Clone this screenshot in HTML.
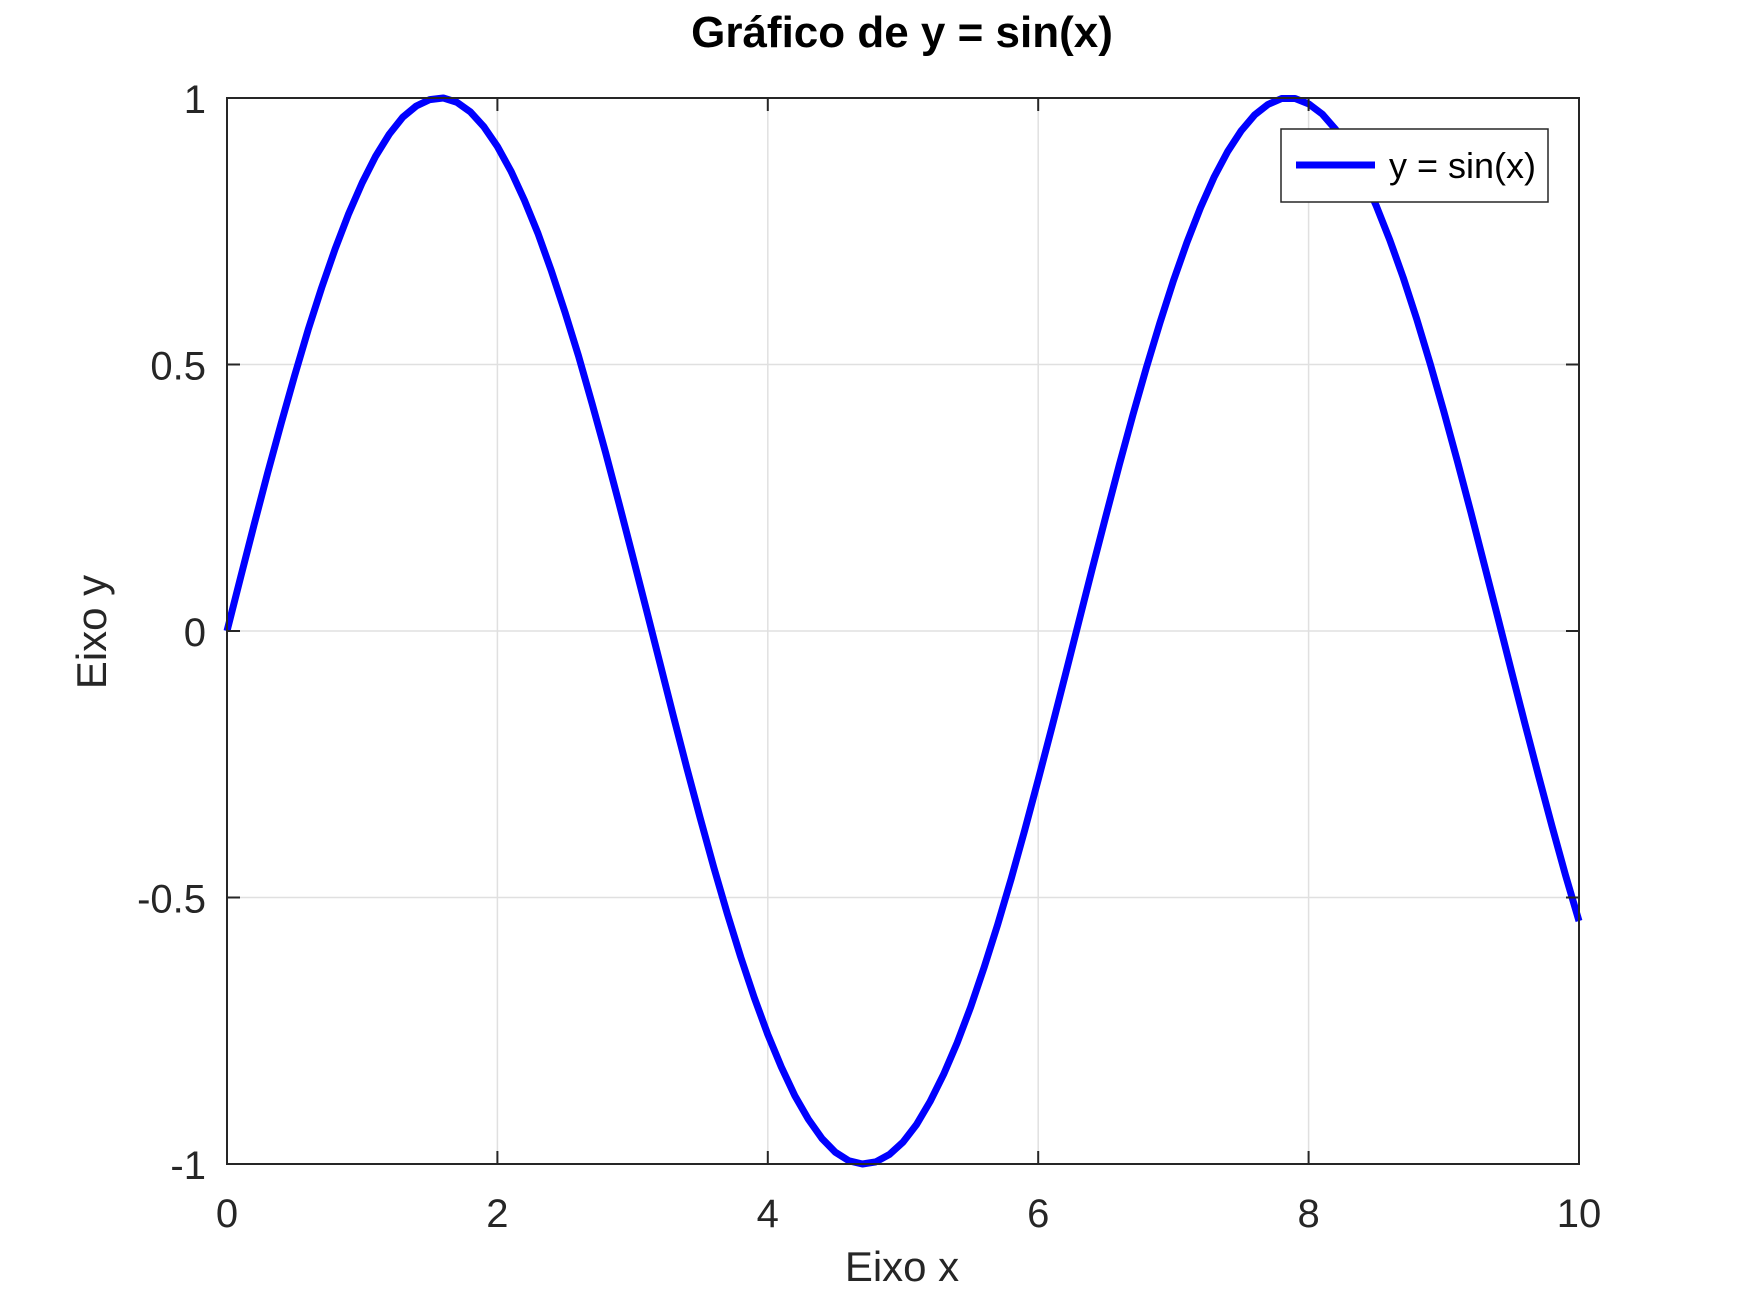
<!DOCTYPE html>
<html><head><meta charset="utf-8"><style>
html,body{margin:0;padding:0;background:#fff;}
svg{display:block;font-family:"Liberation Sans",sans-serif;}
</style></head><body>
<svg id="chart" width="1744" height="1308" viewBox="0 0 1744 1308">
<rect x="0" y="0" width="1744" height="1308" fill="#fff"/>
<g id="grid"></g>
<g id="series"></g>
<rect x="227" y="98" width="1352" height="1066" fill="none" stroke="#262626" stroke-width="2"/>
<g id="ticks"></g>
<text x="902" y="47" font-size="44" font-weight="bold" text-anchor="middle" fill="#000">Gráfico de y = sin(x)</text>
<text x="902" y="1281" font-size="42" text-anchor="middle" fill="#262626">Eixo x</text>
<text x="0" y="0" font-size="42" text-anchor="middle" fill="#262626" transform="translate(106,632) rotate(-90)">Eixo y</text>
<g>
<rect x="1281" y="129" width="267" height="73" fill="#fff" stroke="#262626" stroke-width="1.5"/>
<line x1="1296" y1="165" x2="1375" y2="165" stroke="#0000ff" stroke-width="7"/>
<text x="1389" y="178" font-size="36" fill="#000">y = sin(x)</text>
</g>
</svg>
<script>
const xs = [];
for (let i = 0; i <= 100; i++) xs.push(i / 10);
const ys = [0,.100,.199,.296,.389,.479,.565,.644,.717,.783,.841,.891,.932,.964,.985,.997,1.000,.992,.974,.946,.909,.863,.808,.746,.675,.598,.516,.427,.335,.239,.141,.042,-.058,-.158,-.256,-.351,-.443,-.530,-.612,-.688,-.757,-.818,-.872,-.916,-.952,-.978,-.994,-1.000,-.996,-.982,-.959,-.926,-.883,-.832,-.773,-.706,-.631,-.551,-.465,-.374,-.279,-.182,-.083,.017,.117,.215,.312,.405,.494,.578,.657,.729,.794,.851,.899,.938,.968,.988,.999,.999,.989,.970,.941,.903,.855,.798,.734,.663,.585,.501,.412,.319,.223,.124,.025,-.075,-.174,-.271,-.366,-.458,-.544];
const xTicks = [0,2,4,6,8,10];
const xTickLabels = ["0","2","4","6","8","10"];
const yTicks = [-1,-0.5,0,0.5,1];
const yTickLabels = ["-1","-0.5","0","0.5","1"];

const L=227,R=1579,T=98,B=1164;
const sx = v => L + (v-0)/(10-0)*(R-L);
const sy = v => B - (v-(-1))/(1-(-1))*(B-T);
const NS="http://www.w3.org/2000/svg";
const grid=document.getElementById('grid'), ticks=document.getElementById('ticks'), series=document.getElementById('series');
function mk(tag, attrs, parent){const e=document.createElementNS(NS,tag);for(const k in attrs)e.setAttribute(k,attrs[k]);parent.appendChild(e);return e;}

xTicks.forEach((v,i)=>{
  const x=sx(v);
  const g=mk('line',{x1:x,y1:T,x2:x,y2:B,stroke:'#e0e0e0','stroke-width':1.5},grid);
  
  
  const t1=mk('line',{x1:x,y1:B,x2:x,y2:B-13,stroke:'#262626','stroke-width':2},ticks);
  
  
  const t2=mk('line',{x1:x,y1:T,x2:x,y2:T+13,stroke:'#262626','stroke-width':2},ticks);
  
  
  const lb=mk('text',{x:x,y:1227,'font-size':40,'text-anchor':'middle',fill:'#262626'},ticks);
  lb.textContent=xTickLabels[i];
  
  
});
yTicks.forEach((v,i)=>{
  const y=sy(v);
  const g=mk('line',{x1:L,y1:y,x2:R,y2:y,stroke:'#e0e0e0','stroke-width':1.5},grid);
  
  
  const t1=mk('line',{x1:L,y1:y,x2:L+13,y2:y,stroke:'#262626','stroke-width':2},ticks);
  
  
  const t2=mk('line',{x1:R,y1:y,x2:R-13,y2:y,stroke:'#262626','stroke-width':2},ticks);
  
  
  const lb=mk('text',{x:206,y:y+15,'font-size':40,'text-anchor':'end',fill:'#262626'},ticks);
  lb.textContent=yTickLabels[i];
  
  
});
const d=xs.map((x,i)=>(i?'L':'M')+sx(x).toFixed(2)+','+sy(ys[i]).toFixed(2)).join(' ');
const p=mk('path',{d:d,fill:'none',stroke:'#0000ff','stroke-width':7,'stroke-linejoin':'round'},series);


</script>
</body></html>
